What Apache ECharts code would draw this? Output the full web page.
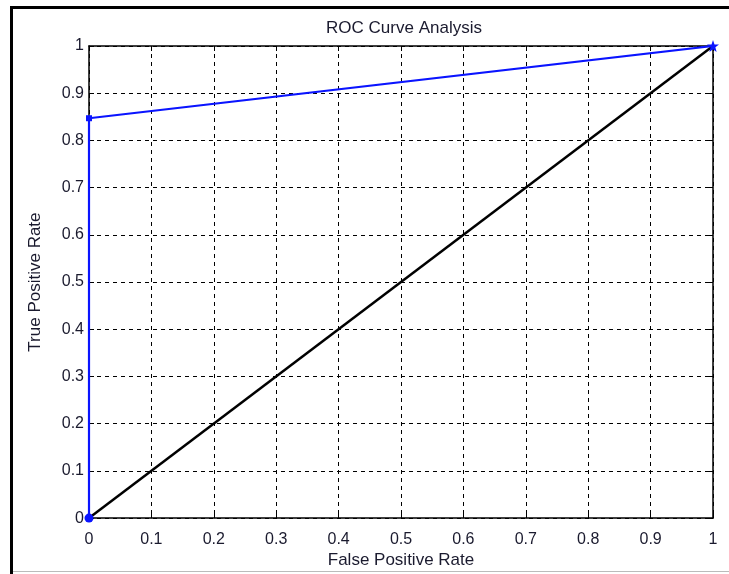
<!DOCTYPE html>
<html><head><meta charset="utf-8">
<script src="https://cdn.jsdelivr.net/npm/echarts@6/dist/echarts.min.js"></script>
<style>html,body{margin:0;padding:0;background:#fff}#c{width:729px;height:574px}</style>
</head><body><div id="c"></div>
<script>
const titleText = 'ROC Curve Analysis';
const xName = 'False Positive Rate';
const yName = 'True Positive Rate';
const rocX = [0, 0, 1];
const rocY = [0, 0.847, 1];
const rocSymbols = ['circle', 'rect', 'path://M0,-10L2.5,-3L10,-3L4,1.5L6,9L0,4.5L-6,9L-4,1.5L-10,-3L-2.5,-3Z'];
const diagX = [0, 1];
const diagY = [0, 1];

const chart = echarts.init(document.getElementById('c'));
const fontFamily = 'Liberation Sans, Arial, sans-serif';
const txt = '#1a1a2e';
const fmt = v => String(Math.round(v * 10) / 10);
const axisCommon = {
  type: 'value', min: 0, max: 1, interval: 0.1,
  axisLine: { show: true, onZero: false, lineStyle: { color: '#000', width: 1.5 } },
  axisTick: { show: true, inside: true, length: 5, lineStyle: { color: '#000', width: 1 } },
};
chart.setOption({
  animation: false,
  backgroundColor: '#fff',
  title: { text: titleText, left: 399, top: 15, textAlign: 'center',
    textStyle: { fontFamily, fontSize: 17, fontWeight: 'normal', color: txt } },
  grid: { left: 89, right: 16, top: 46, bottom: 53 },
  xAxis: [
    Object.assign({}, axisCommon, {
      position: 'bottom', name: xName, nameLocation: 'middle', nameGap: 30,
      nameTextStyle: { fontFamily, fontSize: 17, color: txt },
      axisLabel: { formatter: fmt, fontFamily, fontSize: 16, color: txt, margin: 13 },
      splitLine: { show: true, lineStyle: { color: '#000', type: [4, 4], width: 1 } },
    }),
    Object.assign({}, axisCommon, {
      position: 'top', axisLabel: { show: false }, splitLine: { show: false },
    }),
  ],
  yAxis: [
    Object.assign({}, axisCommon, {
      position: 'left', name: yName, nameLocation: 'middle', nameGap: 45,
      nameTextStyle: { fontFamily, fontSize: 17, color: txt },
      axisLabel: { formatter: fmt, fontFamily, fontSize: 16, color: txt, margin: 5 },
      splitLine: { show: true, lineStyle: { color: '#000', type: [4, 4], width: 1 } },
    }),
    Object.assign({}, axisCommon, {
      position: 'right', axisLabel: { show: false }, splitLine: { show: false },
    }),
  ],
  series: [
    {
      type: 'line', xAxisIndex: 0, yAxisIndex: 0, z: 3,
      data: diagX.map((x, i) => [x, diagY[i]]),
      symbol: 'none', lineStyle: { color: '#000', width: 2.5 },
    },
    {
      type: 'line', xAxisIndex: 0, yAxisIndex: 0, z: 4,
      data: rocX.map((x, i) => ({ value: [x, rocY[i]], symbol: rocSymbols[i],
        symbolSize: i === 0 ? 9 : (i === 1 ? 6 : 12) })),
      lineStyle: { color: '#0a14ff', width: 2.2 },
      itemStyle: { color: '#0a14ff' },
    },
  ],
  graphic: [
    { type: 'line', shape: { x1: 11.5, y1: 6, x2: 11.5, y2: 574 }, style: { stroke: '#000', lineWidth: 3 } },
    { type: 'line', shape: { x1: 10, y1: 7.5, x2: 729, y2: 7.5 }, style: { stroke: '#000', lineWidth: 3 } },
    { type: 'line', shape: { x1: 13, y1: 571.5, x2: 729, y2: 571.5 }, style: { stroke: '#bbb', lineWidth: 1 } },
  ],
});
</script></body></html>
